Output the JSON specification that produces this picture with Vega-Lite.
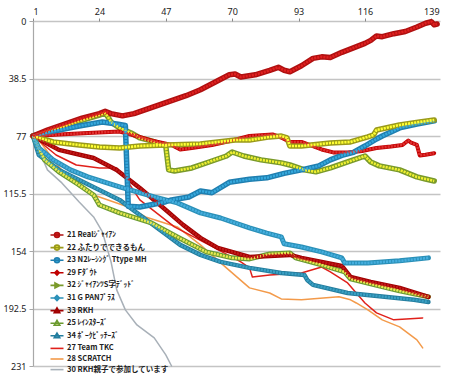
{
"$schema":"https://vega.github.io/schema/vega-lite/v6.json",
"width":407,"height":345,
"autosize":{"type":"none"},
"padding":{"left":33,"top":21,"right":10,"bottom":9},
"background":"white",
"config":{"view":{"stroke":null},"font":"Noto Sans"},
"datasets":{
"names":[
{"s":21,"name":"21 Realｼﾞｬｲｱﾝ"},{"s":22,"name":"22 ふたりでできるもん"},{"s":23,"name":"23 N2ﾚｰｼﾝｸﾞ Ttype MH"},{"s":29,"name":"29 Fﾀﾞｳﾄ"},{"s":32,"name":"32 ｼﾞｬｲｱﾝﾂS字ﾃﾞｯﾄﾞ"},{"s":31,"name":"31 G PANﾌﾟﾗｽ"},{"s":33,"name":"33 RKH"},{"s":25,"name":"25 ﾚｲﾝｽﾀｰｽﾞ"},{"s":34,"name":"34 ﾎﾟｰｸﾋﾟｯﾁｰｽﾞ"},{"s":27,"name":"27 Team TKC"},{"s":28,"name":"28 SCRATCH"},{"s":30,"name":"30 RKH親子で参加しています"}
],
"pts":[
{"s":30,"x":1,"y":77},{"s":30,"x":3,"y":86.3},{"s":30,"x":6,"y":99.7},{"s":30,"x":11,"y":108.4},{"s":30,"x":17,"y":121.2},{"s":30,"x":22,"y":131.2},{"s":30,"x":25,"y":141},{"s":30,"x":28,"y":161},{"s":30,"x":30,"y":180},{"s":30,"x":33,"y":193.4},{"s":30,"x":37,"y":203.5},{"s":30,"x":43,"y":212.2},{"s":30,"x":47,"y":223.6},{"s":30,"x":49,"y":231},
{"s":28,"x":1,"y":77},{"s":28,"x":3,"y":79.7},{"s":28,"x":10,"y":97.7},{"s":28,"x":17,"y":111.1},{"s":28,"x":22,"y":116.5},{"s":28,"x":34,"y":124.5},{"s":28,"x":40,"y":131.2},{"s":28,"x":51,"y":137.9},{"s":28,"x":59,"y":149.9},{"s":28,"x":68,"y":165.3},{"s":28,"x":76,"y":178.7},{"s":28,"x":83,"y":182.1},{"s":28,"x":87,"y":186.1},{"s":28,"x":94,"y":186.7},{"s":28,"x":107,"y":184.7},{"s":28,"x":111,"y":186.7},{"s":28,"x":113,"y":188.8},{"s":28,"x":117,"y":193.4},{"s":28,"x":122,"y":200.1},{"s":28,"x":128,"y":204.8},{"s":28,"x":134,"y":213.5},{"s":28,"x":136,"y":218.9},
{"s":27,"x":1,"y":77},{"s":27,"x":9,"y":89.7},{"s":27,"x":16,"y":96.4},{"s":27,"x":24,"y":98.4},{"s":27,"x":30,"y":98.4},{"s":27,"x":33,"y":105.1},{"s":27,"x":38,"y":119.8},{"s":27,"x":50,"y":137.9},{"s":27,"x":62,"y":149.9},{"s":27,"x":73,"y":161.3},{"s":27,"x":76,"y":165.3},{"s":27,"x":77,"y":171.4},{"s":27,"x":83,"y":170},{"s":27,"x":94,"y":168.7},{"s":27,"x":101,"y":164.7},{"s":27,"x":104,"y":168},{"s":27,"x":110,"y":175.4},{"s":27,"x":116,"y":188.8},{"s":27,"x":120,"y":195.4},{"s":27,"x":126,"y":200.1},{"s":27,"x":136,"y":198.8},
{"s":34,"x":1,"y":77},{"s":34,"x":3,"y":89.7},{"s":34,"x":10,"y":99.7},{"s":34,"x":17,"y":106.4},{"s":34,"x":24,"y":113.1},{"s":34,"x":31,"y":119.8},{"s":34,"x":38,"y":129.9},{"s":34,"x":45,"y":139.9},{"s":34,"x":52,"y":149.9},{"s":34,"x":59,"y":156.6},{"s":34,"x":66,"y":161.3},{"s":34,"x":76,"y":165.3},{"s":34,"x":87,"y":168.7},{"s":34,"x":95,"y":170},{"s":34,"x":96,"y":173.4},{"s":34,"x":98,"y":176.7},{"s":34,"x":110,"y":182.1},{"s":34,"x":133,"y":186.7},{"s":34,"x":138,"y":188.1},
{"s":25,"x":1,"y":77},{"s":25,"x":5,"y":93},{"s":25,"x":10,"y":101},{"s":25,"x":17,"y":109.8},{"s":25,"x":22,"y":116.5},{"s":25,"x":24,"y":123.2},{"s":25,"x":31,"y":128.5},{"s":25,"x":42,"y":135.2},{"s":25,"x":51,"y":144.6},{"s":25,"x":61,"y":154.6},{"s":25,"x":70,"y":158.6},{"s":25,"x":76,"y":159.3},{"s":25,"x":83,"y":156},{"s":25,"x":90,"y":155.3},{"s":25,"x":92,"y":158.6},{"s":25,"x":101,"y":163.3},{"s":25,"x":109,"y":168},{"s":25,"x":111,"y":172.7},{"s":25,"x":118,"y":176},{"s":25,"x":128,"y":180.7},{"s":25,"x":138,"y":184.7},
{"s":33,"x":1,"y":77},{"s":33,"x":10,"y":86.3},{"s":33,"x":22,"y":91.7},{"s":33,"x":30,"y":99.7},{"s":33,"x":38,"y":111.8},{"s":33,"x":45,"y":123.2},{"s":33,"x":53,"y":136.5},{"s":33,"x":59,"y":145.2},{"s":33,"x":65,"y":151.9},{"s":33,"x":76,"y":158},{"s":33,"x":90,"y":156.6},{"s":33,"x":94,"y":158.6},{"s":33,"x":108,"y":164},{"s":33,"x":111,"y":171.4},{"s":33,"x":118,"y":174.7},{"s":33,"x":128,"y":178.7},{"s":33,"x":138,"y":184.7},
{"s":31,"x":1,"y":77},{"s":31,"x":3,"y":85},{"s":31,"x":8,"y":93},{"s":31,"x":14,"y":99.7},{"s":31,"x":20,"y":104.4},{"s":31,"x":31,"y":111},{"s":31,"x":43,"y":117.8},{"s":31,"x":51,"y":121.8},{"s":31,"x":59,"y":128.5},{"s":31,"x":66,"y":131.9},{"s":31,"x":76,"y":138.5},{"s":31,"x":82,"y":142},{"s":31,"x":87,"y":144.5},{"s":31,"x":88,"y":149.2},{"s":31,"x":94,"y":151.3},{"s":31,"x":101,"y":154.6},{"s":31,"x":108,"y":158.6},{"s":31,"x":109,"y":162},{"s":31,"x":117,"y":162},{"s":31,"x":128,"y":160.6},{"s":31,"x":138,"y":158.6},
{"s":32,"x":1,"y":77},{"s":32,"x":10,"y":71.6},{"s":32,"x":17,"y":67},{"s":32,"x":24,"y":63},{"s":32,"x":26,"y":61.6},{"s":32,"x":27,"y":64.3},{"s":32,"x":28,"y":67.6},{"s":32,"x":31,"y":71.6},{"s":32,"x":35,"y":75},{"s":32,"x":38,"y":78.3},{"s":32,"x":42,"y":80.3},{"s":32,"x":45,"y":82.3},{"s":32,"x":47,"y":83.7},{"s":32,"x":48,"y":99.7},{"s":32,"x":50,"y":100.4},{"s":32,"x":56,"y":98.4},{"s":32,"x":62,"y":94.4},{"s":32,"x":68,"y":90.4},{"s":32,"x":70,"y":87.7},{"s":32,"x":74,"y":90.4},{"s":32,"x":80,"y":93},{"s":32,"x":87,"y":95},{"s":32,"x":90,"y":96.4},{"s":32,"x":95,"y":99.7},{"s":32,"x":99,"y":101},{"s":32,"x":104,"y":98.4},{"s":32,"x":111,"y":93.7},{"s":32,"x":116,"y":90.4},{"s":32,"x":118,"y":94.4},{"s":32,"x":121,"y":97},{"s":32,"x":128,"y":99.7},{"s":32,"x":134,"y":104.4},{"s":32,"x":137,"y":105.8},{"s":32,"x":140,"y":107.1},
{"s":29,"x":1,"y":77},{"s":29,"x":10,"y":76},{"s":29,"x":20,"y":75},{"s":29,"x":31,"y":74},{"s":29,"x":35,"y":76},{"s":29,"x":42,"y":80},{"s":29,"x":49,"y":83},{"s":29,"x":52,"y":86},{"s":29,"x":56,"y":85},{"s":29,"x":63,"y":83},{"s":29,"x":70,"y":80},{"s":29,"x":76,"y":77},{"s":29,"x":80,"y":76.5},{"s":29,"x":84,"y":76},{"s":29,"x":87,"y":78},{"s":29,"x":90,"y":81},{"s":29,"x":94,"y":81},{"s":29,"x":101,"y":86},{"s":29,"x":105,"y":88},{"s":29,"x":110,"y":88},{"s":29,"x":115,"y":87},{"s":29,"x":120,"y":85},{"s":29,"x":125,"y":84},{"s":29,"x":129,"y":83},{"s":29,"x":131,"y":80},{"s":29,"x":132,"y":81.5},{"s":29,"x":134,"y":83},{"s":29,"x":135,"y":90},{"s":29,"x":137,"y":89.5},{"s":29,"x":140,"y":88.5},
{"s":23,"x":1,"y":77},{"s":23,"x":10,"y":73},{"s":23,"x":17,"y":70.3},{"s":23,"x":25,"y":67.6},{"s":23,"x":30,"y":69},{"s":23,"x":33,"y":70},{"s":23,"x":34,"y":124},{"s":23,"x":38,"y":124.5},{"s":23,"x":42,"y":123},{"s":23,"x":47,"y":121},{"s":23,"x":49,"y":119.8},{"s":23,"x":55,"y":117.8},{"s":23,"x":59,"y":113.8},{"s":23,"x":63,"y":115},{"s":23,"x":69,"y":108},{"s":23,"x":76,"y":106},{"s":23,"x":82,"y":105},{"s":23,"x":88,"y":102},{"s":23,"x":94,"y":99.7},{"s":23,"x":100,"y":97},{"s":23,"x":104,"y":93},{"s":23,"x":108,"y":90},{"s":23,"x":112,"y":88},{"s":23,"x":116,"y":83.7},{"s":23,"x":120,"y":79},{"s":23,"x":122,"y":77},{"s":23,"x":128,"y":71.6},{"s":23,"x":134,"y":69},{"s":23,"x":140,"y":66.9},
{"s":22,"x":1,"y":77},{"s":22,"x":8,"y":81},{"s":22,"x":17,"y":83},{"s":22,"x":24,"y":84.4},{"s":22,"x":31,"y":85},{"s":22,"x":38,"y":83.7},{"s":22,"x":47,"y":83},{"s":22,"x":59,"y":82.3},{"s":22,"x":71,"y":79.7},{"s":22,"x":76,"y":79.7},{"s":22,"x":83,"y":77.6},{"s":22,"x":87,"y":77},{"s":22,"x":89,"y":78.3},{"s":22,"x":90,"y":83.7},{"s":22,"x":94,"y":83.7},{"s":22,"x":104,"y":81.7},{"s":22,"x":111,"y":81},{"s":22,"x":117,"y":77.6},{"s":22,"x":119,"y":76.3},{"s":22,"x":120,"y":73},{"s":22,"x":128,"y":69.6},{"s":22,"x":135,"y":67.6},{"s":22,"x":140,"y":66.3},
{"s":21,"x":1,"y":77},{"s":21,"x":6,"y":73},{"s":21,"x":12,"y":69},{"s":21,"x":18,"y":65},{"s":21,"x":24,"y":62},{"s":21,"x":26,"y":60.5},{"s":21,"x":28,"y":62},{"s":21,"x":32,"y":63.5},{"s":21,"x":36,"y":62},{"s":21,"x":42,"y":58},{"s":21,"x":48,"y":54},{"s":21,"x":54,"y":50},{"s":21,"x":59,"y":46},{"s":21,"x":64,"y":41},{"s":21,"x":69,"y":36},{"s":21,"x":71,"y":35.5},{"s":21,"x":73,"y":37.5},{"s":21,"x":78,"y":36},{"s":21,"x":83,"y":33},{"s":21,"x":86,"y":31},{"s":21,"x":88,"y":33},{"s":21,"x":90,"y":34},{"s":21,"x":94,"y":30},{"s":21,"x":98,"y":25},{"s":21,"x":101,"y":24},{"s":21,"x":104,"y":24.5},{"s":21,"x":108,"y":21},{"s":21,"x":112,"y":18},{"s":21,"x":116,"y":15},{"s":21,"x":118,"y":13},{"s":21,"x":120,"y":10},{"s":21,"x":122,"y":10.5},{"s":21,"x":126,"y":8.5},{"s":21,"x":130,"y":7},{"s":21,"x":134,"y":4},{"s":21,"x":137,"y":1.5},{"s":21,"x":139,"y":0.5},{"s":21,"x":140,"y":2.5},{"s":21,"x":141,"y":2}
]},
"data":{"name":"pts"},
"transform":[{"lookup":"s","from":{"data":{"name":"names"},"key":"s","fields":["name"]}}],
"encoding":{
"x":{"field":"x","type":"quantitative","scale":{"domain":[1,142],"nice":false,"zero":false},
"axis":{"orient":"top","title":null,"values":[1,24,47,70,93,116,139],"grid":false,"domain":false,"tickSize":3,"tickColor":"#888","labelFontSize":9,"labelColor":"#222","labelPadding":2}},
"y":{"field":"y","type":"quantitative","scale":{"domain":[0,231],"reverse":true,"nice":false,"zero":false},
"axis":{"title":null,"values":[0,38.5,77,115.5,154,192.5,231],"format":".1~f","grid":true,"gridColor":"#c4c4c4","gridWidth":1.5,"domainColor":"#a8a8a8","domainWidth":1.2,"tickColor":"#a8a8a8","tickSize":4,"labelFontSize":9,"labelColor":"#222","labelPadding":3}}
},
"layer":[
{"mark":{"type":"line","strokeJoin":"round","strokeCap":"round"},
"encoding":{
"color":{"field":"name","type":"nominal",
"scale":{"domain":["21 Realｼﾞｬｲｱﾝ","22 ふたりでできるもん","23 N2ﾚｰｼﾝｸﾞ Ttype MH","29 Fﾀﾞｳﾄ","32 ｼﾞｬｲｱﾝﾂS字ﾃﾞｯﾄﾞ","31 G PANﾌﾟﾗｽ","33 RKH","25 ﾚｲﾝｽﾀｰｽﾞ","34 ﾎﾟｰｸﾋﾟｯﾁｰｽﾞ","27 Team TKC","28 SCRATCH","30 RKH親子で参加しています"],
"range":["#b01010","#9a9a1a","#1f7fb0","#c00000","#7a9a2a","#2a90b8","#a00000","#6a9a30","#237d9e","#e0201a","#f39a4a","#a8b0b8"]},
"legend":{"orient":"none","legendX":18,"legendY":208,"title":null,"padding":0,"labelFont":"Noto Sans CJK JP","labelFontSize":7.5,"labelFontWeight":"bold","labelColor":"#222","symbolSize":100,"rowPadding":0.6,"labelOffset":4,"symbolStrokeWidth":1.6,"symbolType":"M-1.3,0H1.3",
"encode":{"symbols":{"update":{
"shape":{"signal":"{'21':'M-1.3,0H1.3M-0.5,0A0.5,0.5 0 1,1 0.5,0A0.5,0.5 0 1,1 -0.5,0Z','22':'M-1.3,0H1.3M-0.5,0A0.5,0.5 0 1,1 0.5,0A0.5,0.5 0 1,1 -0.5,0Z','23':'M-1.3,0H1.3M-0.5,0A0.5,0.5 0 1,1 0.5,0A0.5,0.5 0 1,1 -0.5,0Z','29':'M-1.3,0H1.3M0,-0.45L0.45,0L0,0.45L-0.45,0Z','32':'M-1.3,0H1.3M-0.4,-0.5L0.55,0L-0.4,0.5Z','31':'M-1.3,0H1.3M0,-0.5L0.5,0L0,0.5L-0.5,0Z','33':'M-1.3,0H1.3M0,-0.55L0.55,0.4L-0.55,0.4Z','25':'M-1.3,0H1.3M0,-0.55L0.55,0.4L-0.55,0.4Z','34':'M-1.3,0H1.3M0,-0.55L0.55,0.4L-0.55,0.4Z','27':'M-1.3,0H1.3','28':'M-1.3,0H1.3','30':'M-1.3,0H1.3'}[slice(datum.value,0,2)]"},
"fill":{"signal":"{'21':'#e02020','22':'#ffff40','23':'#35a8dc','29':'#e03030','32':'#eef040','31':'#45aede','33':'#c01818','25':'#f4f4a0','34':'#3aa0c4','27':'transparent','28':'transparent','30':'transparent'}[slice(datum.value,0,2)]"}
}}}}},
"strokeWidth":{"field":"s","type":"nominal","legend":null,
"scale":{"type":"ordinal","domain":[21,22,23,29,32,31,33,25,34,27,28,30],
"range":[5.5,5.5,5.5,4,5.5,5,4.5,5,4.5,1.5,1.5,1.5]}}
}},
{"transform":[{"filter":"indexof([21,22,23,29,32,31,33,25,34], datum.s) >= 0"}],
"mark":{"type":"line","strokeWidth":2.6,"strokeDash":[2.2,0.9],"strokeCap":"butt","strokeJoin":"round"},
"encoding":{
"stroke":{"field":"s","type":"nominal","legend":null,
"scale":{"domain":[21,22,23,29,32,31,33,25,34],
"range":["#e02020","#ffff33","#35a8dc","#e03030","#f0f030","#45aede","#c01818","#e8e850","#3aa0c4"]}}
}}
]
}
